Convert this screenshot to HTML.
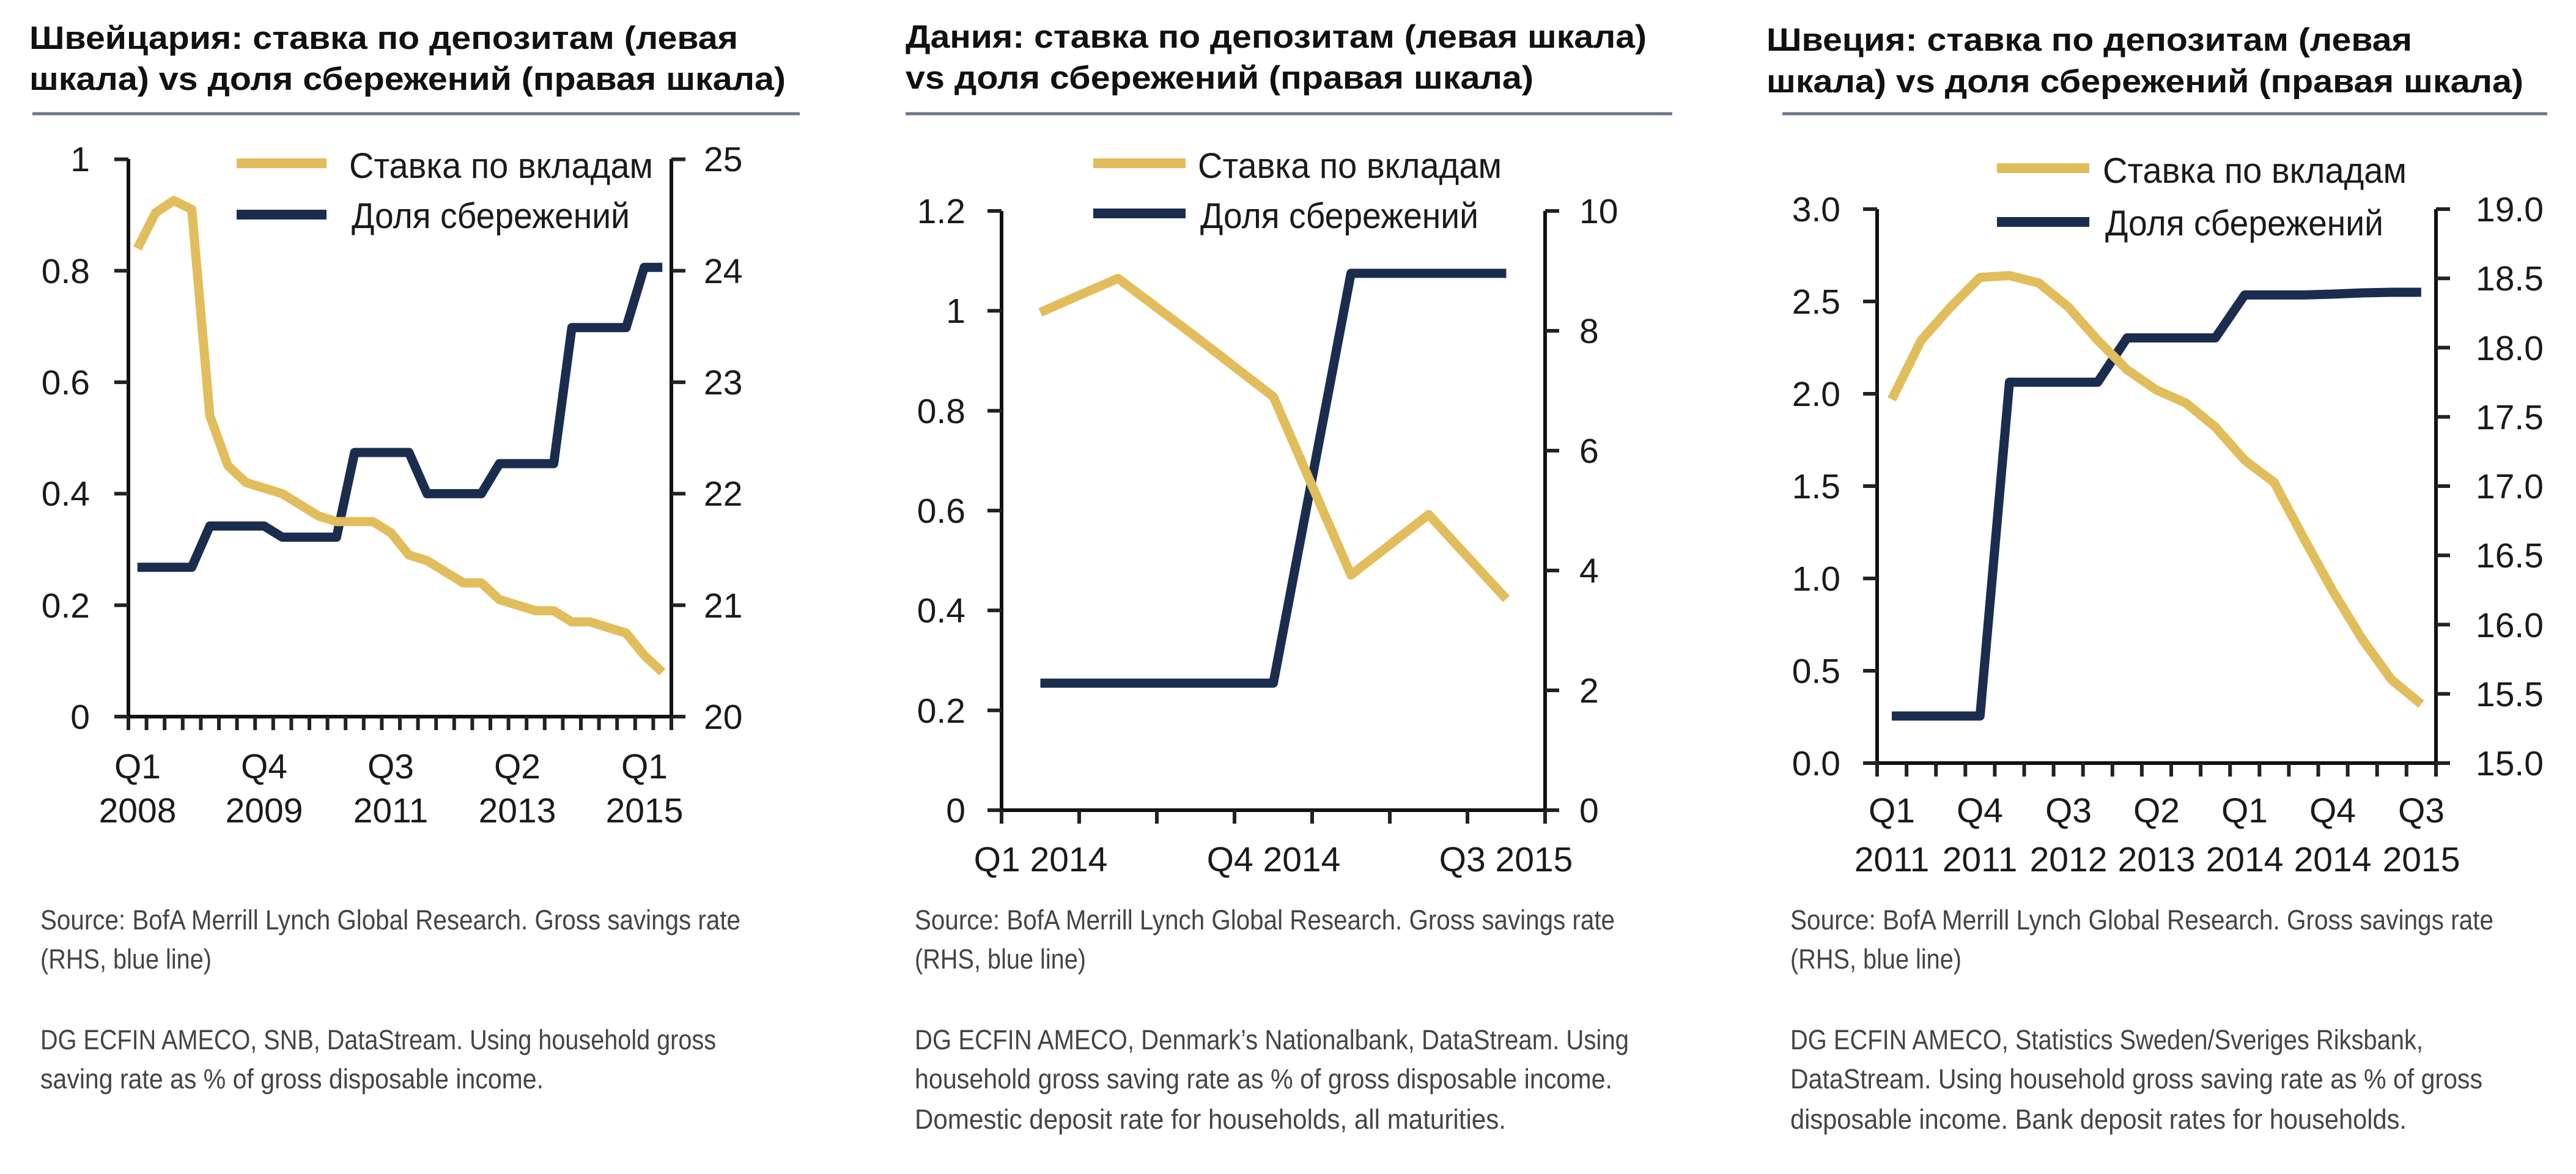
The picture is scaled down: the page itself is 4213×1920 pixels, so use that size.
<!DOCTYPE html>
<html><head><meta charset="utf-8"><style>
html,body{margin:0;padding:0;background:#fff;}
svg{display:block;}
text{font-family:"Liberation Sans","DejaVu Sans",sans-serif;}
.t{font-weight:bold;font-size:53px;fill:#111;}
.a{font-size:57px;fill:#1a1a1a;}
.s{font-size:45px;fill:#444;}
.lg{font-size:58px;fill:#1a1a1a;}
.ax{stroke:#111;stroke-width:6;fill:none;}
.tk{stroke:#222;stroke-width:6;fill:none;}
.y{stroke:#e2bd5c;stroke-width:15;fill:none;stroke-linejoin:round;}
.b{stroke:#1b2d4e;stroke-width:15;fill:none;stroke-linejoin:round;}
.r{stroke:#6a7888;stroke-width:5;}
</style></head><body>
<svg width="4213" height="1920" viewBox="0 0 4213 1920" xmlns="http://www.w3.org/2000/svg">
<rect width="4213" height="1920" fill="#fff"/>

<!-- ===== Chart 1: Switzerland ===== -->
<text class="t" x="48" y="80" textLength="1159" lengthAdjust="spacingAndGlyphs">Швейцария: ставка по депозитам (левая</text>
<text class="t" x="48" y="147" textLength="1237" lengthAdjust="spacingAndGlyphs">шкала) vs доля сбережений (правая шкала)</text>
<line class="r" x1="53" y1="186" x2="1308" y2="186"/>

<path class="ax" d="M210 260V1172M1098 260V1172M187 1172H1121"/>
<path class="tk" d="M187 1172H210M187 989.7H210M187 807.4H210M187 625.1H210M187 442.8H210M187 260.5H210M1098 1172H1121M1098 989.7H1121M1098 807.4H1121M1098 625.1H1121M1098 442.8H1121M1098 260.5H1121
M210 1172V1194M239.6 1172V1194M269.2 1172V1194M298.8 1172V1194M328.4 1172V1194M358 1172V1194M387.6 1172V1194M417.2 1172V1194M446.8 1172V1194M476.4 1172V1194M506 1172V1194M535.6 1172V1194M565.2 1172V1194M594.8 1172V1194M624.4 1172V1194M654 1172V1194M683.6 1172V1194M713.2 1172V1194M742.8 1172V1194M772.4 1172V1194M802 1172V1194M831.6 1172V1194M861.2 1172V1194M890.8 1172V1194M920.4 1172V1194M950 1172V1194M979.6 1172V1194M1009.2 1172V1194M1038.8 1172V1194M1068.4 1172V1194M1098 1172V1194"/>
<g class="a" text-anchor="end">
<text x="147" y="1192">0</text><text x="147" y="1010">0.2</text><text x="147" y="827">0.4</text><text x="147" y="645">0.6</text><text x="147" y="463">0.8</text><text x="147" y="280">1</text>
</g>
<g class="a">
<text x="1151" y="1192">20</text><text x="1151" y="1010">21</text><text x="1151" y="827">22</text><text x="1151" y="645">23</text><text x="1151" y="463">24</text><text x="1151" y="280">25</text>
</g>
<g class="a" text-anchor="middle">
<text x="225" y="1273">Q1</text><text x="225" y="1345">2008</text>
<text x="432" y="1273">Q4</text><text x="432" y="1345">2009</text>
<text x="639" y="1273">Q3</text><text x="639" y="1345">2011</text>
<text x="846" y="1273">Q2</text><text x="846" y="1345">2013</text>
<text x="1054" y="1273">Q1</text><text x="1054" y="1345">2015</text>
</g>
<polyline class="b" points="224.8,927.7 254.4,927.7 284,927.7 313.6,927.7 343.2,860.3 372.8,860.3 402.4,860.3 432,860.3 461.6,878.5 491.2,878.5 520.8,878.5 550.4,878.5 580,740 609.6,740 639.2,740 668.8,740 698.4,807.4 728,807.4 757.6,807.4 787.2,807.4 816.8,758.2 846.4,758.2 876,758.2 905.6,758.2 935.2,535.8 964.8,535.8 994.4,535.8 1024,535.8 1053.6,437.3 1083.2,437.3"/>
<polyline class="y" points="224.8,406.3 254.4,348 284,328 313.6,342.5 343.2,679.8 372.8,761.8 402.4,789.2 432,798.3 461.6,807.4 491.2,825.6 520.8,843.9 550.4,853 580,853 609.6,853 639.2,871.2 668.8,907.7 698.4,916.8 728,935 757.6,953.2 787.2,953.2 816.8,980.6 846.4,989.7 876,998.8 905.6,998.8 935.2,1017 964.8,1017 994.4,1026.2 1024,1035.3 1053.6,1071.7 1083.2,1099.1"/>
<line x1="387" y1="267" x2="534" y2="267" stroke="#e2bd5c" stroke-width="16"/>
<line x1="387" y1="351" x2="534" y2="351" stroke="#1b2d4e" stroke-width="16"/>
<text class="lg" x="571" y="291" textLength="497" lengthAdjust="spacingAndGlyphs">Ставка по вкладам</text>
<text class="lg" x="575" y="373" textLength="455" lengthAdjust="spacingAndGlyphs">Доля сбережений</text>

<text class="s" x="66" y="1520" textLength="1145" lengthAdjust="spacingAndGlyphs">Source: BofA Merrill Lynch Global Research. Gross savings rate</text>
<text class="s" x="66" y="1584" textLength="280" lengthAdjust="spacingAndGlyphs">(RHS, blue line)</text>
<text class="s" x="66" y="1716" textLength="1105" lengthAdjust="spacingAndGlyphs">DG ECFIN AMECO, SNB, DataStream. Using household gross</text>
<text class="s" x="66" y="1780" textLength="823" lengthAdjust="spacingAndGlyphs">saving rate as % of gross disposable income.</text>

<!-- ===== Chart 2: Denmark ===== -->
<text class="t" x="1481" y="78" textLength="1212" lengthAdjust="spacingAndGlyphs">Дания: ставка по депозитам (левая шкала)</text>
<text class="t" x="1481" y="145" textLength="1027" lengthAdjust="spacingAndGlyphs">vs доля сбережений (правая шкала)</text>
<line class="r" x1="1481" y1="186" x2="2735" y2="186"/>

<path class="ax" d="M1638 345V1325M2527 345V1325M1615 1325H2550"/>
<path class="tk" d="M1615 1325H1638M1615 1161.7H1638M1615 998.3H1638M1615 835H1638M1615 671.7H1638M1615 508.3H1638M1615 345H1638M2527 1325H2550M2527 1129H2550M2527 933H2550M2527 737H2550M2527 541H2550M2527 345H2550
M1638 1325V1347M1765 1325V1347M1892 1325V1347M2019 1325V1347M2146 1325V1347M2273 1325V1347M2400 1325V1347M2527 1325V1347"/>
<g class="a" text-anchor="end">
<text x="1579" y="1345">0</text><text x="1579" y="1182">0.2</text><text x="1579" y="1018">0.4</text><text x="1579" y="855">0.6</text><text x="1579" y="692">0.8</text><text x="1579" y="528">1</text><text x="1579" y="365">1.2</text>
</g>
<g class="a">
<text x="2583" y="1345">0</text><text x="2583" y="1149">2</text><text x="2583" y="953">4</text><text x="2583" y="757">6</text><text x="2583" y="561">8</text><text x="2583" y="365">10</text>
</g>
<g class="a" text-anchor="middle">
<text x="1702" y="1425">Q1 2014</text><text x="2083" y="1425">Q4 2014</text><text x="2463" y="1425">Q3 2015</text>
</g>
<polyline class="b" points="1701.5,1117.2 1828.5,1117.2 1955.5,1117.2 2082.5,1117.2 2209.5,447 2336.5,447 2463.5,447"/>
<polyline class="y" points="1701.5,510.7 1828.5,455.2 1955.5,550.8 2082.5,648.8 2209.5,940.3 2336.5,841.5 2463.5,979.5"/>
<line x1="1788" y1="267" x2="1939" y2="267" stroke="#e2bd5c" stroke-width="16"/>
<line x1="1788" y1="349" x2="1939" y2="349" stroke="#1b2d4e" stroke-width="16"/>
<text class="lg" x="1959" y="291" textLength="497" lengthAdjust="spacingAndGlyphs">Ставка по вкладам</text>
<text class="lg" x="1963" y="373" textLength="455" lengthAdjust="spacingAndGlyphs">Доля сбережений</text>

<text class="s" x="1496" y="1520" textLength="1145" lengthAdjust="spacingAndGlyphs">Source: BofA Merrill Lynch Global Research. Gross savings rate</text>
<text class="s" x="1496" y="1584" textLength="280" lengthAdjust="spacingAndGlyphs">(RHS, blue line)</text>
<text class="s" x="1496" y="1716" textLength="1168" lengthAdjust="spacingAndGlyphs">DG ECFIN AMECO, Denmark’s Nationalbank, DataStream. Using</text>
<text class="s" x="1496" y="1780" textLength="1141" lengthAdjust="spacingAndGlyphs">household gross saving rate as % of gross disposable income.</text>
<text class="s" x="1496" y="1846" textLength="967" lengthAdjust="spacingAndGlyphs">Domestic deposit rate for households, all maturities.</text>

<!-- ===== Chart 3: Sweden ===== -->
<text class="t" x="2889" y="83" textLength="1056" lengthAdjust="spacingAndGlyphs">Швеция: ставка по депозитам (левая</text>
<text class="t" x="2889" y="151" textLength="1238" lengthAdjust="spacingAndGlyphs">шкала) vs доля сбережений (правая шкала)</text>
<line class="r" x1="2915" y1="186" x2="4166" y2="186"/>

<path class="ax" d="M3070 342V1248M3984 342V1248M3047 1248H4007"/>
<path class="tk" d="M3047 1248H3070M3047 1097H3070M3047 946H3070M3047 795H3070M3047 644H3070M3047 493H3070M3047 342H3070
M3984 1248H4007M3984 1134.75H4007M3984 1021.5H4007M3984 908.25H4007M3984 795H4007M3984 681.75H4007M3984 568.5H4007M3984 455.25H4007M3984 342H4007
M3070 1248V1270M3118.1 1248V1270M3166.2 1248V1270M3214.3 1248V1270M3262.4 1248V1270M3310.5 1248V1270M3358.6 1248V1270M3406.7 1248V1270M3454.8 1248V1270M3502.9 1248V1270M3551 1248V1270M3599.1 1248V1270M3647.2 1248V1270M3695.3 1248V1270M3743.4 1248V1270M3791.5 1248V1270M3839.6 1248V1270M3887.7 1248V1270M3935.8 1248V1270M3984 1248V1270"/>
<g class="a" text-anchor="end">
<text x="3010" y="1268">0.0</text><text x="3010" y="1117">0.5</text><text x="3010" y="966">1.0</text><text x="3010" y="815">1.5</text><text x="3010" y="664">2.0</text><text x="3010" y="513">2.5</text><text x="3010" y="362">3.0</text>
</g>
<g class="a">
<text x="4049" y="1268">15.0</text><text x="4049" y="1155">15.5</text><text x="4049" y="1042">16.0</text><text x="4049" y="928">16.5</text><text x="4049" y="815">17.0</text><text x="4049" y="702">17.5</text><text x="4049" y="589">18.0</text><text x="4049" y="475">18.5</text><text x="4049" y="362">19.0</text>
</g>
<g class="a" text-anchor="middle">
<text x="3094" y="1345">Q1</text><text x="3094" y="1425">2011</text>
<text x="3238" y="1345">Q4</text><text x="3238" y="1425">2011</text>
<text x="3383" y="1345">Q3</text><text x="3383" y="1425">2012</text>
<text x="3527" y="1345">Q2</text><text x="3527" y="1425">2013</text>
<text x="3671" y="1345">Q1</text><text x="3671" y="1425">2014</text>
<text x="3815" y="1345">Q4</text><text x="3815" y="1425">2014</text>
<text x="3960" y="1345">Q3</text><text x="3960" y="1425">2015</text>
</g>
<polyline class="b" points="3094,1171 3142.1,1171 3190.2,1171 3238.3,1171 3286.4,625.1 3334.5,625.1 3382.6,625.1 3430.7,625.1 3478.8,552.6 3526.9,552.6 3575,552.6 3623.1,552.6 3671.2,482.4 3719.3,482.4 3767.4,482.4 3815.5,481 3863.6,479 3911.7,478 3959.8,478"/>
<polyline class="y" points="3094,653.1 3142.1,556.4 3190.2,502.1 3238.3,453.7 3286.4,450.7 3334.5,462.8 3382.6,502.1 3430.7,556.4 3478.8,604.7 3526.9,637.9 3575,659.1 3623.1,698.4 3671.2,752.7 3719.3,788.9 3767.4,879.6 3815.5,967.1 3863.6,1045.7 3911.7,1112.1 3959.8,1151.4"/>
<line x1="3266" y1="275" x2="3417" y2="275" stroke="#e2bd5c" stroke-width="16"/>
<line x1="3266" y1="363" x2="3417" y2="363" stroke="#1b2d4e" stroke-width="16"/>
<text class="lg" x="3439" y="299" textLength="497" lengthAdjust="spacingAndGlyphs">Ставка по вкладам</text>
<text class="lg" x="3443" y="385" textLength="455" lengthAdjust="spacingAndGlyphs">Доля сбережений</text>

<text class="s" x="2928" y="1520" textLength="1150" lengthAdjust="spacingAndGlyphs">Source: BofA Merrill Lynch Global Research. Gross savings rate</text>
<text class="s" x="2928" y="1584" textLength="280" lengthAdjust="spacingAndGlyphs">(RHS, blue line)</text>
<text class="s" x="2928" y="1716" textLength="1035" lengthAdjust="spacingAndGlyphs">DG ECFIN AMECO, Statistics Sweden/Sveriges Riksbank,</text>
<text class="s" x="2928" y="1780" textLength="1132" lengthAdjust="spacingAndGlyphs">DataStream. Using household gross saving rate as % of gross</text>
<text class="s" x="2928" y="1846" textLength="1008" lengthAdjust="spacingAndGlyphs">disposable income. Bank deposit rates for households.</text>
</svg>
</body></html>
